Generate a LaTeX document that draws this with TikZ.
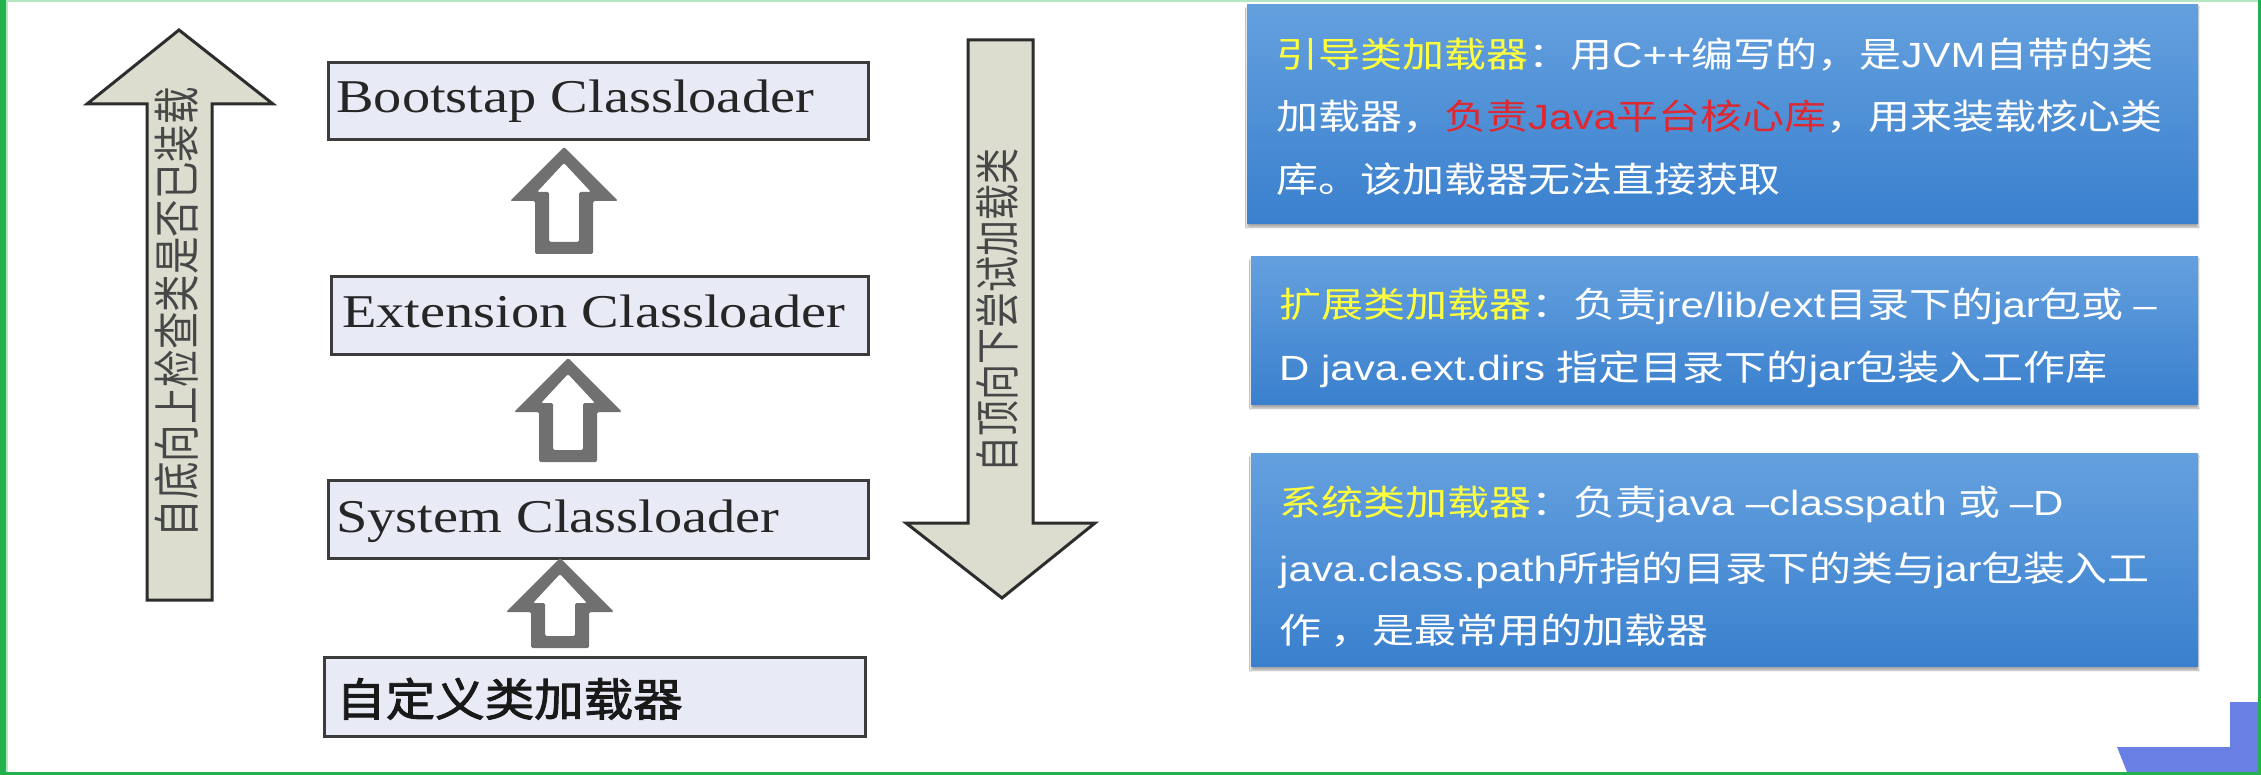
\documentclass[tikz,border=0pt]{standalone}
\usepackage{fontspec}
\usetikzlibrary{calc,shadows.blur}
\newfontfamily\boxfont[FakeStretch=1.2]{Liberation Serif}
\newfontfamily\cjk[FakeStretch=1.2]{Noto Sans CJK SC}
\newfontfamily\lat[FakeStretch=1.2]{Liberation Sans}
\newfontfamily\cjkb[FakeStretch=1.1,FakeBold=2]{Noto Sans CJK SC}
\newfontfamily\cjkr{Noto Sans CJK SC}
\definecolor{frame}{RGB}{34,177,76}
\definecolor{framelight}{RGB}{180,232,195}
\definecolor{arrowfill}{RGB}{220,221,207}
\definecolor{arrowline}{RGB}{45,45,45}
\definecolor{boxfill}{RGB}{232,235,246}
\definecolor{boxline}{RGB}{60,60,60}
\definecolor{hollow}{RGB}{112,112,112}
\definecolor{paneltop}{RGB}{100,160,222}
\definecolor{panelbot}{RGB}{58,128,206}
\definecolor{ttl}{RGB}{255,255,60}
\definecolor{redt}{RGB}{222,40,50}
\definecolor{corner}{RGB}{106,127,227}
\tikzset{
  loaderbox/.style={draw=boxline, line width=3pt, fill=boxfill, inner sep=0pt, anchor=north west},
  boxtext/.style={anchor=base west, inner sep=0pt, font=\fontsize{47}{47}\boxfont, text=black!85},
  bigarrow/.style={draw=arrowline, line width=3pt, fill=arrowfill, line join=miter},
  vtext/.style={rotate=90, inner sep=0pt, text=black!72},
  panel/.style={top color=paneltop, bottom color=panelbot, draw=none, inner sep=0pt, anchor=north west,
    blur shadow={shadow blur steps=8, shadow xshift=0pt, shadow yshift=-4pt, shadow opacity=35}},
  ptext/.style={anchor=base west, inner sep=0pt, text=white, font=\fontsize{35}{35}\cjk},
}
\newcommand\hollowup[3]{%
  \fill[hollow, even odd rule, rounded corners=1.5pt, shift={(#1,-#2)}]
    (0,0) -- (54,-54) -- (29,-54) -- (29,-#3) -- (-29,-#3) -- (-29,-54) -- (-54,-54) -- cycle
    (0,-16) -- (27,-45) -- (15,-45) -- (15,-#3+12) -- (-15,-#3+12) -- (-15,-45) -- (-27,-45) -- cycle;}
\begin{document}
\begin{tikzpicture}[x=1pt,y=1pt]
\useasboundingbox (0,0) rectangle (2261,-775);
\fill[white] (0,0) rectangle (2261,-775);

% big vertical arrows
\draw[bigarrow] (179,-30) -- (273,-104) -- (212,-104) -- (212,-600) -- (147,-600) -- (147,-104) -- (87,-104) -- cycle;
\node[vtext] (uptext) at (177,-312) {\scalebox{1}[1.25]{\fontsize{37.5}{37.5}\cjkr 自底向上检查类是否已装载}};
\draw[bigarrow] (968,-40) -- (1033,-40) -- (1033,-523) -- (1095,-523) -- (1002,-598) -- (906,-523) -- (968,-523) -- cycle;
\node[vtext] (downtext) at (997,-310) {\scalebox{1}[1.25]{\fontsize{36}{36}\cjkr 自顶向下尝试加载类}};

% loader boxes
\node[loaderbox, minimum width=540pt, minimum height=77pt] (boot) at (327,-61) {};
\node[boxtext] (boottxt) at ($(boot.north west)+(9,-52)$) {Bootstap Classloader};
\node[loaderbox, minimum width=537pt, minimum height=78pt] (ext) at (330,-275) {};
\node[boxtext] (exttxt) at ($(ext.north west)+(12,-52)$) {Extension Classloader};
\node[loaderbox, minimum width=540pt, minimum height=78pt] (sys) at (327,-479) {};
\node[boxtext] (systxt) at ($(sys.north west)+(9,-53)$) {System Classloader};
\node[loaderbox, minimum width=541pt, minimum height=79pt] (cust) at (323,-656) {};
\node[anchor=base west, inner sep=0pt, font=\fontsize{45}{45}\cjkb, text=black!90] (custtxt) at ($(cust.north west)+(13,-60)$) {自定义类加载器};

% hollow arrows between boxes
\hollowup{564}{147}{107}
\hollowup{568}{358}{104}
\hollowup{560}{558}{90}

% right panels
\node[panel, minimum width=951pt, minimum height=219pt] (p1) at (1247,-4) {};
\node[ptext] (p1a) at (1276,-68) {{\color{ttl}引导类加载器}：用{\lat C++}编写的，是{\lat JVM}自带的类};
\node[ptext] (p1b) at (1276,-130) {加载器，{\color{redt}负责{\lat Java}平台核心库}，用来装载核心类};
\node[ptext] (p1c) at (1276,-193) {库。该加载器无法直接获取};

\node[panel, minimum width=947pt, minimum height=148pt] (p2) at (1251,-256) {};
\node[ptext] (p2a) at (1279,-318) {{\color{ttl}扩展类加载器}：负责{\lat jre/lib/ext}目录下的{\lat jar}包或 {\lat –}};
\node[ptext] (p2b) at (1279,-381) {{\lat D java.ext.dirs }指定目录下的{\lat jar}包装入工作库};

\node[panel, minimum width=947pt, minimum height=213pt] (p3) at (1251,-453) {};
\node[ptext] (p3a) at (1279,-515) {{\color{ttl}系统类加载器}：负责{\lat java –classpath }或 {\lat –D}};
\node[ptext] (p3b) at (1279,-581) {{\lat java.class.path}所指的目录下的类与{\lat jar}包装入工};
\node[ptext] (p3c) at (1279,-643) {作 ，是最常用的加载器};

% corner decoration
\fill[corner] (2230,-702) -- (2259,-702) -- (2259,-772) -- (2127,-772) -- (2117,-747) -- (2230,-747) -- cycle;

% frame
\fill[framelight] (0,0) rectangle (2261,-2);
\fill[frame] (0,0) rectangle (6,-775);
\fill[framelight] (6,-2) rectangle (8,-772);
\fill[frame] (0,-772) rectangle (2261,-775);
\fill[frame] (2258,0) rectangle (2261,-775);
\end{tikzpicture}
\end{document}
